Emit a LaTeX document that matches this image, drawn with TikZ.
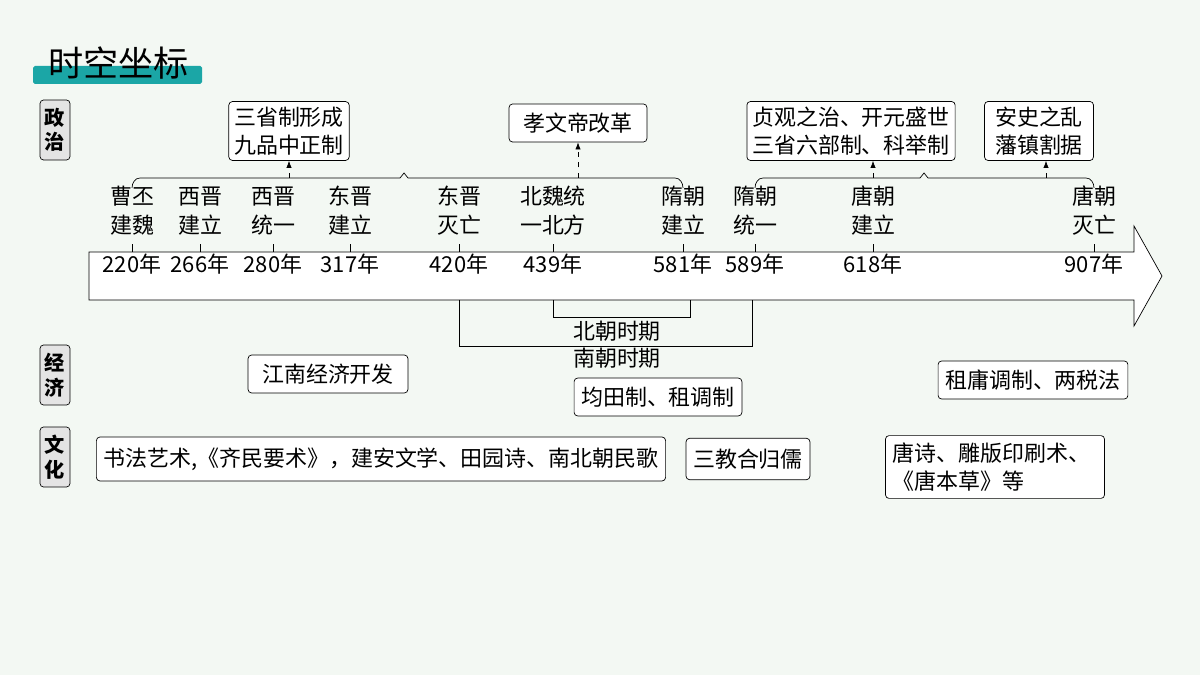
\documentclass[tikz,border=0pt]{standalone}
\usepackage{fontspec}
\setmainfont{Noto Sans CJK SC}
\usetikzlibrary{arrows.meta}
\definecolor{bgc}{HTML}{F3F8F3}
\definecolor{teal}{HTML}{1BA6A6}
\definecolor{tagc}{HTML}{E4E4E4}
\tikzset{
  evt/.style={box, align=center, inner sep=3pt},
  box/.style={draw, rounded corners=2pt, fill=white, font=\fontsize{12.5}{16}\selectfont, inner xsep=4pt},
  tag/.style={draw, rounded corners=2pt, fill=tagc, align=center, font=\bfseries\fontsize{11.5}{14}\selectfont, minimum width=0.6cm, minimum height=1.2cm, inner sep=1pt},
  lbl/.style={align=center, font=\fontsize{12.5}{16.5}\selectfont},
  yr/.style={font=\fontsize{12.5}{14}\selectfont},
  up/.style={-{Latex[length=4pt,width=3pt]}, dashed}
}
\begin{document}
\begin{tikzpicture}[x=0.02cm,y=-0.02cm]
\fill[bgc] (0,0) rectangle (1200,675);
\useasboundingbox (0,0) rectangle (1200,675);
\fill[teal, rounded corners=1pt] (33,66) rectangle (202,84);
\node[anchor=west, font=\fontsize{20}{22}\selectfont] (title) at (42,63) {时空坐标};
\node[tag] (zz) at (55,130) {政\\治};
\node[tag] (jj) at (55,375) {经\\济};
\node[tag] (wh) at (55,457) {文\\化};
\draw[fill=white] (89,252) -- (1134,252) -- (1134,226) -- (1162,276) -- (1134,326) -- (1134,300) -- (89,300) -- cycle;
\foreach \x/\y/\t [count=\i] in {132/220/曹丕\\建魏, 200/266/西晋\\建立, 273/280/西晋\\统一, 350/317/东晋\\建立, 459/420/东晋\\灭亡, 553/439/北魏统\\一北方, 683/581/隋朝\\建立, 755/589/隋朝\\统一, 873/618/唐朝\\建立, 1094/907/唐朝\\灭亡}{
  \draw (\x,252) -- (\x,244);
  \node[yr] (y\i) at (\x,264) {\y 年};
  \node[lbl] (e\i) at (\x,211) {\t};
}
\draw (132,188) to[out=90,in=180] (140,178) -- (400,178) -- (404,173) -- (408,178) -- (675,178) to[out=0,in=90] (683,188);
\draw (755,188) to[out=90,in=180] (763,178) -- (920,178) -- (924,173) -- (928,178) -- (1086,178) to[out=0,in=90] (1094,188);
\node[evt] (sx) at (289,131) {三省制形成\\九品中正制};
\node[evt, inner xsep=8pt, inner ysep=5pt] (xw) at (578,123) {孝文帝改革};
\node[evt] (zg) at (851,131) {贞观之治、开元盛世\\三省六部制、科举制};
\node[evt, inner xsep=6pt] (as) at (1039,131) {安史之乱\\藩镇割据};
\coordinate (b1) at (289,178);
\coordinate (b2) at (578,178);
\coordinate (b3) at (873,178);
\coordinate (b4) at (1046,178);
\draw[up] (b1) -- (sx.south -| b1);
\draw[up] (b2) -- (xw.south -| b2);
\draw[up] (b3) -- (zg.south -| b3);
\draw[up] (b4) -- (as.south -| b4);
\draw (553,300) -- (553,317) -- (690,317) -- (690,300);
\draw (459,300) -- (459,346) -- (752,346) -- (752,300);
\node[lbl] (bc) at (617,331) {北朝时期};
\node[lbl] (nc) at (617,358) {南朝时期};
\node[box, inner xsep=8pt, inner ysep=5pt] (jn) at (328,374) {江南经济开发};
\node[box, inner ysep=5pt] (jt) at (658,397) {均田制、租调制};
\node[box, inner ysep=5pt] (zy) at (1033,380) {租庸调制、两税法};
\node[box, inner ysep=6pt] (sf) at (381,459) {书法艺术,《齐民要术》，建安文学、田园诗、南北朝民歌};
\node[box, inner ysep=6pt] (sj) at (748,459) {三教合归儒};
\node[box, align=left, text width=4.1cm, inner ysep=4pt] (ts) at (995,467) {唐诗、雕版印刷术、\\《唐本草》等};
\end{tikzpicture}
\end{document}
